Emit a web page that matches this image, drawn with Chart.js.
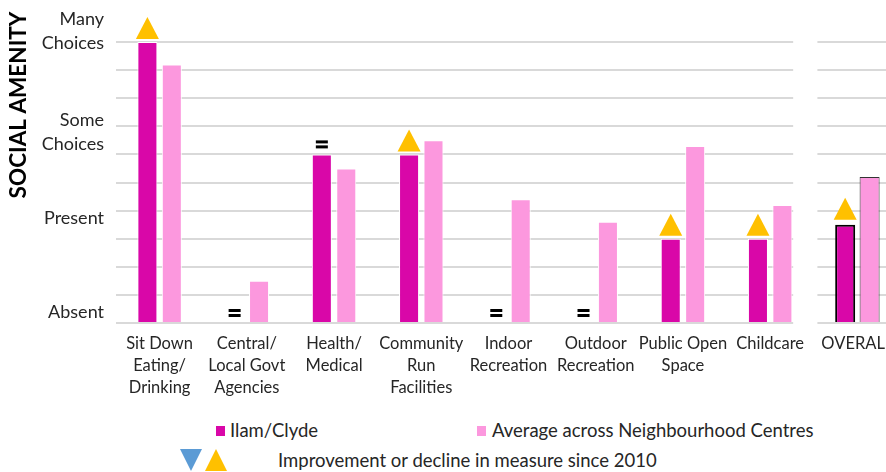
<!DOCTYPE html>
<html>
<head>
<meta charset="utf-8">
<title>Social Amenity</title>
<script src="https://cdn.jsdelivr.net/npm/chart.js@4.4.1/dist/chart.umd.min.js"></script>
<style>
  body { margin: 0; background: #fff; font-family: Lato, "Open Sans", sans-serif; color: #262626; }
  #wrap { position: relative; width: 886px; height: 472px; overflow: hidden; }
  #box { position: absolute; left: 0; top: 0; width: 905px; height: 415px; }
  .sq { position: absolute; width: 9px; height: 10px; }
  .lt { position: absolute; font-size: 18.5px; line-height: 22px; white-space: nowrap; }
  .tri-up { position: absolute; width: 0; height: 0;
    border-left: 11px solid transparent; border-right: 11px solid transparent; border-bottom: 22px solid #FFC000; }
  .tri-down { position: absolute; width: 0; height: 0;
    border-left: 11px solid transparent; border-right: 11px solid transparent; border-top: 22px solid #5B9BD5; }
</style>
</head>
<body>
<div id="wrap">
  <div id="box"><canvas id="chart"></canvas></div>

  <div class="sq" style="left:216px; top:426px; background:#D907A8;"></div>
  <div class="lt" style="left:230px; top:419px;">Ilam/Clyde</div>
  <div class="sq" style="left:477px; top:426px; background:#FC98DE;"></div>
  <div class="lt" style="left:492px; top:419px;">Average across Neighbourhood Centres</div>

  <div class="tri-down" style="left:180px; top:449px;"></div>
  <div class="tri-up" style="left:205px; top:449px;"></div>
  <div class="lt" style="left:278px; top:449px;">Improvement or decline in measure since 2010</div>
</div>

<script>
    // chart data
    var categories = [
        ["Sit Down", "Eating/", "Drinking"],
        ["Central/", "Local Govt", "Agencies"],
        ["Health/", "Medical"],
        ["Community", "Run", "Facilities"],
        ["Indoor", "Recreation"],
        ["Outdoor", "Recreation"],
        ["Public Open", "Space"],
        ["Childcare"],
        ["OVERALL"]
    ];
    var ilamValues = [10, 0, 6, 6, 0, 0, 3, 3, 3.5];
    var avgValues = [9.2, 1.5, 5.5, 6.5, 4.4, 3.6, 6.3, 4.2, 5.2];
    // change since 2010 shown above the Ilam/Clyde bar
    var changeMarks = ["up", "same", "same", "up", "same", "same", "up", "up", "up"];

    var yGridValues = [0, 1, 2, 3, 4, 5, 6, 7, 8, 9, 10];
    var yLabelValues = [0.39, 3.74, 6.8, 10.39];
    var yLabelTexts = [["Absent"], ["Present"], ["Some", "Choices"], ["Many", "Choices"]];

    var ilamColor = "#D907A8";
    var avgColor = "#FC98DE";
    var overallIndex = categories.length - 1;

    // white gap in the grid between the Childcare group and OVERALL
    var gridGap = {
        id: "gridGap",
        beforeDatasetsDraw: function(chart) {
            var x = chart.scales.x;
            var area = chart.chartArea;
            var x1 = x.getPixelForValue(overallIndex - 1) + 23;
            var x2 = x.getPixelForValue(overallIndex) - 40;
            var ctx = chart.ctx;
            ctx.save();
            ctx.fillStyle = "#fff";
            ctx.fillRect(x1, area.top - 3, x2 - x1, area.bottom - area.top + 6);
            ctx.restore();
        }
    };

    // triangles and "=" marks above the Ilam/Clyde bars, plus the y title
    var changeMarkers = {
        id: "changeMarkers",
        afterDatasetsDraw: function(chart) {
            var ctx = chart.ctx;
            var bars = chart.getDatasetMeta(0).data;
            ctx.save();
            for (var i = 0; i < bars.length; i++) {
                var bar = bars[i];
                var top = Math.min(bar.y, bar.base);
                if (changeMarks[i] == "up") {
                    var gap = i == overallIndex ? 5 : 3;
                    ctx.fillStyle = "#FFC000";
                    ctx.beginPath();
                    ctx.moveTo(bar.x - 11.5, top - gap);
                    ctx.lineTo(bar.x + 11.5, top - gap);
                    ctx.lineTo(bar.x, top - gap - 22);
                    ctx.closePath();
                    ctx.fill();
                } else if (changeMarks[i] == "same") {
                    var c = top - 10;
                    ctx.fillStyle = "#000";
                    ctx.fillRect(bar.x - 6, c - 4, 12, 3);
                    ctx.fillRect(bar.x - 6, c + 1, 12, 3);
                }
            }
            ctx.restore();
        },
        afterDraw: function(chart) {
            var ctx = chart.ctx;
            ctx.save();
            ctx.translate(19, chart.chartArea.top + 63);
            ctx.rotate(-Math.PI / 2);
            ctx.font = "bold 22.5px Lato";
            ctx.fillStyle = "#000";
            ctx.textAlign = "center";
            ctx.textBaseline = "middle";
            ctx.fillText("SOCIAL AMENITY", 0, 0);
            ctx.restore();
        }
    };

    var ctx = document.getElementById("chart").getContext("2d");
    var myChart = new Chart(ctx, {
        type: "bar",
        data: {
            labels: categories,
            datasets: [{
                    label: "Ilam/Clyde",
                    data: ilamValues,
                    backgroundColor: ilamColor,
                    borderColor: function(c) { return c.dataIndex == overallIndex ? "#000" : "#fff"; },
                    borderWidth: function(c) { return c.dataIndex == overallIndex ? 2 : 1; }
                },
                {
                    label: "Average across Neighbourhood Centres",
                    data: avgValues,
                    backgroundColor: avgColor,
                    borderColor: function(c) { return c.dataIndex == overallIndex ? "#333" : "#fff"; },
                    borderWidth: 1
                }
            ]
        },
        options: {
            responsive: true,
            maintainAspectRatio: false,
            animation: false,
            categoryPercentage: 0.56,
            barPercentage: 0.82,
            layout: { padding: { top: 42, right: 4, left: 0, bottom: 0 } },
            plugins: {
                legend: { display: false },
                tooltip: { enabled: false }
            },
            scales: {
                x: {
                    grid: { display: false },
                    border: { display: false },
                    ticks: {
                        autoSkip: false,
                        maxRotation: 0,
                        padding: 2,
                        color: "#262626",
                        font: { family: "Lato", size: 16.5, lineHeight: "22px" }
                    },
                    afterFit: function(scale) { scale.height = 92; }
                },
                y: {
                    min: 0,
                    max: 10,
                    border: { display: false },
                    grid: {
                        drawTicks: false,
                        lineWidth: 2,
                        color: function(c) {
                            return yGridValues.indexOf(c.tick.value) >= 0 ? "#D9D9D9" : "rgba(0,0,0,0)";
                        }
                    },
                    ticks: {
                        autoSkip: false,
                        padding: 12,
                        color: "#262626",
                        font: { family: "Lato", size: 18, lineHeight: "24px" },
                        callback: function(value) {
                            var k = yLabelValues.indexOf(value);
                            return k >= 0 ? yLabelTexts[k] : "";
                        }
                    },
                    afterBuildTicks: function(scale) {
                        var all = yGridValues.concat(yLabelValues).sort(function(a, b) { return a - b; });
                        scale.ticks = all.map(function(v) { return { value: v }; });
                    },
                    afterFit: function(scale) { scale.width = 116; }
                }
            }
        },
        plugins: [gridGap, changeMarkers]
    });
</script>
</body>
</html>
